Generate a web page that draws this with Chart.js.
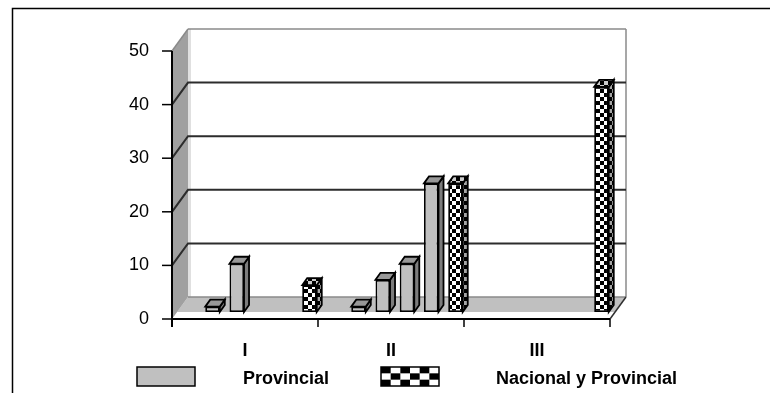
<!DOCTYPE html>
<html>
<head>
<meta charset="utf-8">
<script src="https://cdn.jsdelivr.net/npm/chart.js@4.4.1/dist/chart.umd.min.js"></script>
<style>
  html, body { margin: 0; padding: 0; background: #fff; }
  canvas { display: block; }
</style>
</head>
<body>
<canvas id="chart" width="770" height="393"></canvas>
<script>
// Categories and values (percent of cases)
const categories = ['I', 'II', 'III'];
const yTicks = [0, 10, 20, 30, 40, 50];
const provincialA = [1, 1, null];
const provincialB = [9, 6, null];
const provincialC = [null, 9, null];
const provincialD = [null, 24, null];
const nacionalYProvincial = [5, 24, 42];
const legendLabels = ['Provincial', 'Nacional y Provincial'];

const FONT = '"Liberation Sans", Arial, sans-serif';
const GRAY_FRONT = '#c0c0c0';
const GRAY_TOP = '#989898';
const GRAY_SIDE = '#7c7c7c';

// depth of the box (side wall / floor), of each column, and how far columns sit behind the front edge
const WALL_DEPTH = { x: 16, y: -22 };
const BAR_DEPTH = { x: 5, y: -7 };
const BAR_SHIFT = { x: 16, y: -7 };

const canvas = document.getElementById('chart');
const ctx0 = canvas.getContext('2d');

function checkerPattern(size) {
  const c = document.createElement('canvas');
  c.width = c.height = size * 2;
  const g = c.getContext('2d');
  g.fillStyle = '#ffffff';
  g.fillRect(0, 0, size * 2, size * 2);
  g.fillStyle = '#000000';
  g.fillRect(0, 0, size, size);
  g.fillRect(size, size, size, size);
  return ctx0.createPattern(c, 'repeat');
}
const CHECKER = checkerPattern(4);

function poly(ctx, pts) {
  ctx.beginPath();
  ctx.moveTo(pts[0][0], pts[0][1]);
  for (let i = 1; i < pts.length; i++) ctx.lineTo(pts[i][0], pts[i][1]);
  ctx.closePath();
}
function line(ctx, x1, y1, x2, y2, color, w) {
  ctx.beginPath();
  ctx.moveTo(x1, y1);
  ctx.lineTo(x2, y2);
  ctx.strokeStyle = color;
  ctx.lineWidth = w;
  ctx.stroke();
}

// Walls, floor, gridlines and the front axes of the 3-D box
const box3d = {
  id: 'box3d',
  beforeDatasetsDraw(chart) {
    const { ctx, chartArea: a, scales: { y } } = chart;
    const L = a.left, R = a.right;
    const y0 = y.getPixelForValue(y.min);
    const yTop = y.getPixelForValue(y.max);
    const dx = WALL_DEPTH.x, dy = WALL_DEPTH.y;
    ctx.save();
    // floor
    ctx.fillStyle = '#c0c0c0';
    poly(ctx, [[L + 5, y0 - 7], [R + 5, y0 - 7], [R + dx, y0 + dy], [L + dx, y0 + dy]]);
    ctx.fill();
    // left side wall
    ctx.fillStyle = '#a0a0a0';
    poly(ctx, [[L, y0], [L, yTop], [L + dx, yTop + dy], [L + dx, y0 + dy]]);
    ctx.fill();
    ctx.fillStyle = '#e0e0e0';
    ctx.fillRect(L + dx, yTop + dy, 3, y0 - yTop);
    // back wall edges
    line(ctx, L + dx, yTop + dy, R + dx, yTop + dy, '#8a8a8a', 1.5);
    line(ctx, R + dx, yTop + dy, R + dx, y0 + dy, '#8a8a8a', 1.5);
    line(ctx, L, yTop, L + dx, yTop + dy, '#8a8a8a', 1.5);
    line(ctx, L + dx, y0 + dy, R + dx, y0 + dy, '#8a8a8a', 1.5);
    line(ctx, R + dx, y0 + dy, R, y0, '#303030', 1.5);
    // gridlines on side and back walls
    yTicks.forEach(v => {
      if (v <= y.min || v >= y.max) return;
      const py = y.getPixelForValue(v);
      ctx.beginPath();
      ctx.moveTo(L, py);
      ctx.lineTo(L + dx, py + dy);
      ctx.lineTo(R + dx, py + dy);
      ctx.strokeStyle = '#2c2c2c';
      ctx.lineWidth = 2;
      ctx.stroke();
    });
    // front axes with tick marks
    line(ctx, L, yTop, L, y0 + 8, '#000', 2);
    line(ctx, L, y0, R, y0, '#000', 2);
    yTicks.forEach(v => {
      const py = y.getPixelForValue(v);
      line(ctx, L - 10, py, L, py, '#000', 1.5);
    });
    for (let i = 1; i <= categories.length; i++) {
      const px = L + (R - L) * i / categories.length;
      line(ctx, px, y0, px, y0 + 8, '#000', 1.5);
    }
    ctx.restore();
    // columns stand a little behind the front edge
    ctx.save();
    ctx.translate(BAR_SHIFT.x, BAR_SHIFT.y);
  },
  afterDatasetsDraw(chart) {
    const { ctx } = chart;
    const dx = BAR_DEPTH.x, dy = BAR_DEPTH.y;
    chart.data.datasets.forEach((ds, di) => {
      const meta = chart.getDatasetMeta(di);
      meta.data.forEach((bar, j) => {
        if (ds.data[j] == null) return;
        const { x, y, base, width } = bar.getProps(['x', 'y', 'base', 'width'], true);
        const l = x - width / 2, r = x + width / 2;
        const checkered = ds.backgroundColor !== GRAY_FRONT;
        // right side face
        poly(ctx, [[r, y], [r + dx, y + dy], [r + dx, base + dy], [r, base]]);
        ctx.fillStyle = checkered ? CHECKER : GRAY_SIDE;
        ctx.fill();
        if (checkered) { ctx.fillStyle = 'rgba(0,0,0,0.35)'; ctx.fill(); }
        ctx.strokeStyle = '#000';
        ctx.lineWidth = 1.8;
        ctx.stroke();
        // top face
        poly(ctx, [[l, y], [l + dx, y + dy], [r + dx, y + dy], [r, y]]);
        ctx.fillStyle = checkered ? CHECKER : GRAY_TOP;
        ctx.fill();
        if (checkered) { ctx.fillStyle = 'rgba(0,0,0,0.2)'; ctx.fill(); }
        ctx.stroke();
      });
    });
    ctx.restore();
  },
  afterDraw(chart) {
    const { ctx } = chart;
    ctx.save();
    // outer frame
    ctx.beginPath();
    ctx.moveTo(12.5, 393);
    ctx.lineTo(12.5, 8.5);
    ctx.lineTo(770, 8.5);
    ctx.strokeStyle = '#000';
    ctx.lineWidth = 1.5;
    ctx.stroke();
    // legend
    const boxW = 58, boxH = 19, boxY = 367;
    const entries = [
      { label: legendLabels[0], boxX: 137, textX: 243, checkered: false },
      { label: legendLabels[1], boxX: 381, textX: 496, checkered: true }
    ];
    entries.forEach(e => {
      if (e.checkered) {
        const cols = 6, rows = 3;
        const cw = boxW / cols, ch = boxH / rows;
        ctx.fillStyle = '#fff';
        ctx.fillRect(e.boxX, boxY, boxW, boxH);
        ctx.fillStyle = '#000';
        for (let r = 0; r < rows; r++)
          for (let c = 0; c < cols; c++)
            if ((r + c) % 2 === 0) ctx.fillRect(e.boxX + c * cw, boxY + r * ch, cw, ch);
      } else {
        ctx.fillStyle = GRAY_FRONT;
        ctx.fillRect(e.boxX, boxY, boxW, boxH);
      }
      ctx.strokeStyle = '#000';
      ctx.lineWidth = 1.5;
      ctx.strokeRect(e.boxX, boxY, boxW, boxH);
      ctx.fillStyle = '#000';
      ctx.font = 'bold 18px ' + FONT;
      ctx.textBaseline = 'alphabetic';
      ctx.textAlign = 'left';
      ctx.fillText(e.label, e.textX, 384);
    });
    ctx.restore();
  }
};

function barSet(label, values, color) {
  return {
    label,
    data: values,
    backgroundColor: color,
    borderColor: '#000',
    borderWidth: 1.8,
    borderSkipped: false,
    categoryPercentage: 0.83,
    barPercentage: 0.6,
    clip: false
  };
}

new Chart(canvas, {
  type: 'bar',
  data: {
    labels: categories,
    datasets: [
      barSet(legendLabels[0], provincialA, GRAY_FRONT),
      barSet(legendLabels[0], provincialB, GRAY_FRONT),
      barSet(legendLabels[0], provincialC, GRAY_FRONT),
      barSet(legendLabels[0], provincialD, GRAY_FRONT),
      barSet(legendLabels[1], nacionalYProvincial, CHECKER)
    ]
  },
  options: {
    responsive: false,
    animation: false,
    devicePixelRatio: 1,
    layout: { padding: { left: 0, top: 51, right: 160, bottom: 0 } },
    plugins: { legend: { display: false }, tooltip: { enabled: false } },
    scales: {
      x: {
        grid: { display: false, drawTicks: false },
        border: { display: false },
        ticks: { color: '#000', font: { family: FONT, size: 18, weight: 'bold' }, padding: 21 },
        afterFit(s) { s.height = 74; }
      },
      y: {
        min: 0,
        max: 50,
        grid: { display: false, drawTicks: false },
        border: { display: false },
        ticks: {
          stepSize: 10,
          color: '#000',
          font: { family: FONT, size: 18 },
          padding: 23,
          callback: (v) => yTicks.includes(v) ? String(v) : ''
        },
        afterFit(s) { s.width = 172; }
      }
    }
  },
  plugins: [box3d]
});
</script>
</body>
</html>
